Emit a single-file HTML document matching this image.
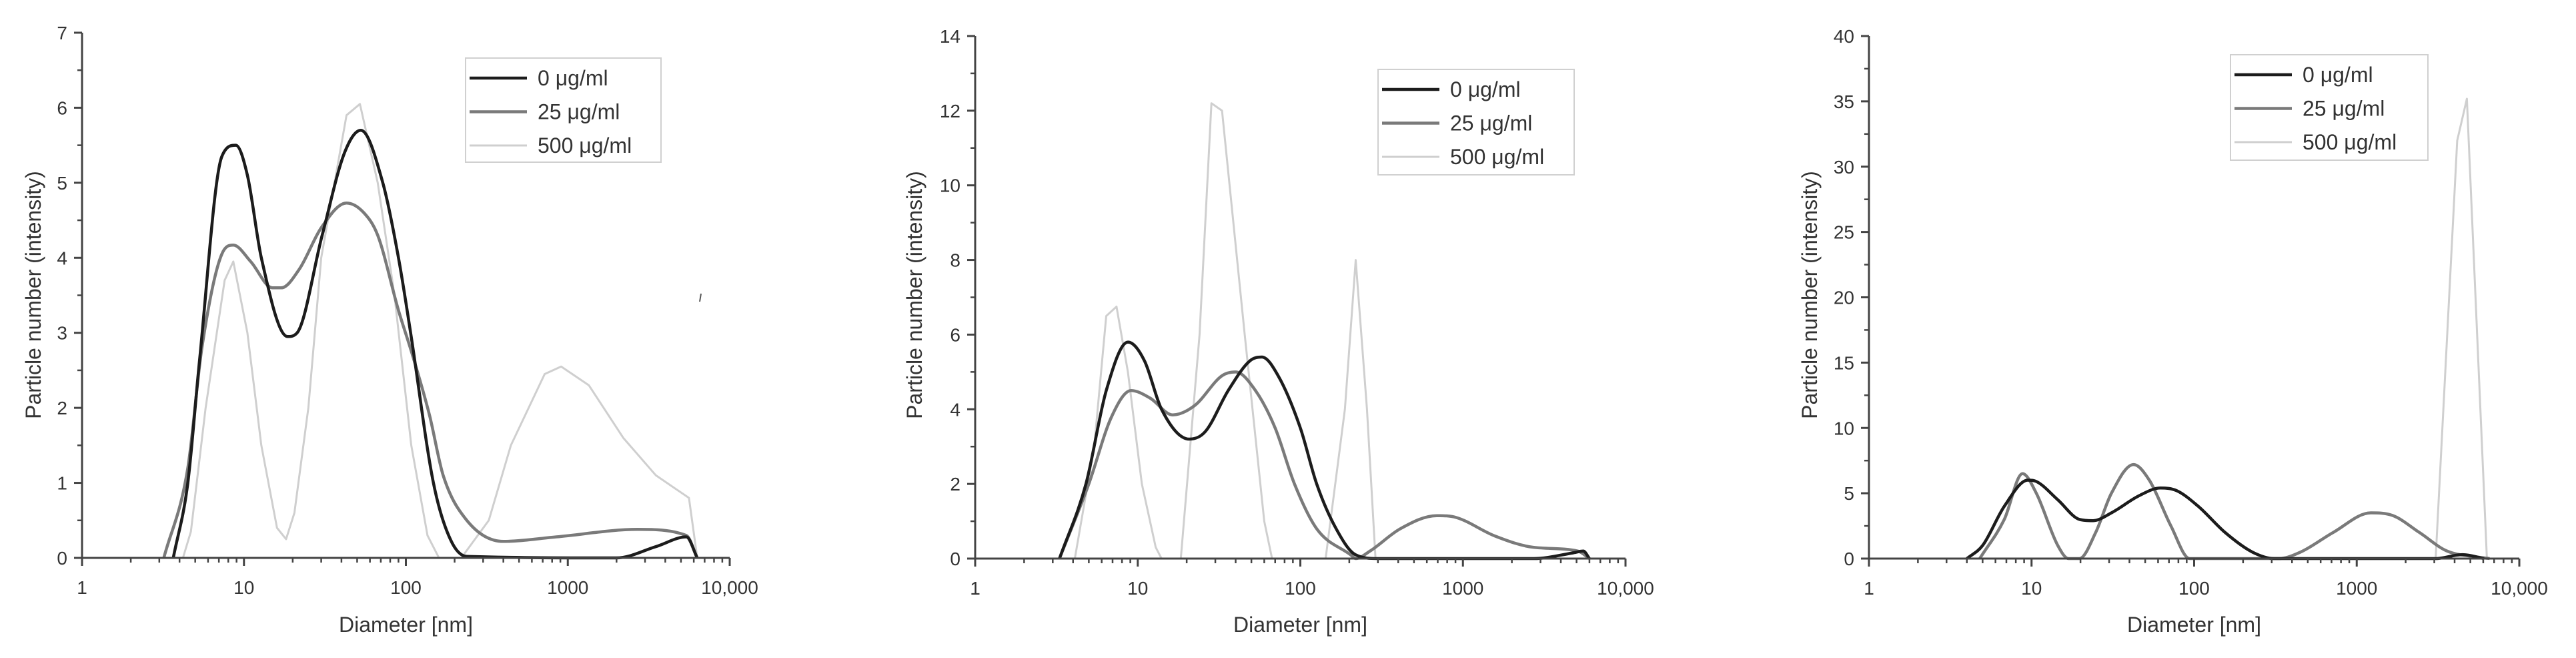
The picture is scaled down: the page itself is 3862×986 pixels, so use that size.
<!DOCTYPE html>
<html><head><meta charset="utf-8"><style>
html,body{margin:0;padding:0;background:#fff;}
svg{display:block;font-family:"Liberation Sans",Arial,sans-serif;}
</style></head><body>
<svg id="fig" width="3862" height="986" viewBox="0 0 3862 986" xmlns="http://www.w3.org/2000/svg"></svg>
<script>
// ---- Data (diameter in nm, particle number intensity) ----
const p1BlackD = [3.66,4.5,5.3,7.3,8.9,10.5,12.8,18.6,21.3,30.4,41.8,52.7,72,90,107,148,188,238,2000,3500,5400,6300];
const p1BlackY = [0,1.0,2.6,5.35,5.5,5.1,4.0,2.95,3.0,4.3,5.4,5.7,5.0,4.0,3.0,1.0,0.25,0.02,0,0.15,0.28,0];
const p1GrayD = [3.2,4.5,5.5,7.3,8.6,11,15,17,22,30,43,55,67,90,110,140,170,238,400,850,2700,5400,6300];
const p1GrayY = [0,1.2,2.8,4.05,4.17,3.95,3.6,3.6,3.85,4.4,4.73,4.6,4.3,3.3,2.7,1.9,1.1,0.5,0.22,0.28,0.38,0.3,0];
const p1LightD = [4.2,4.7,5.8,7.6,8.6,10.5,12.8,16,18.2,20.5,25,30,43,52,67,85,108,136,160,220,325,445,720,910,1350,2200,3500,5600,6300];
const p1LightY = [0,0.35,2.0,3.7,3.95,3.0,1.5,0.4,0.25,0.6,2.0,4.0,5.9,6.05,5.0,3.5,1.5,0.3,0,0,0.5,1.5,2.45,2.55,2.3,1.6,1.1,0.8,0];

const p2BlackD = [3.3,4.8,6.4,8.7,11,14,20.7,26,36,49,58,73,100,126,166,219,300,2730,4730,5500,6000];
const p2BlackY = [0,2.0,4.5,5.8,5.3,4.0,3.2,3.4,4.5,5.3,5.4,4.9,3.5,2.0,0.8,0.1,0,0,0.15,0.2,0];
const p2GrayD = [3.3,5.0,6.9,9.1,11.9,16.4,22.4,33,40,53,70,92,126,204,219,268,412,690,910,1580,2730,5100,6000];
const p2GrayY = [0,2.0,3.8,4.5,4.3,3.85,4.1,4.9,5.0,4.5,3.5,2.0,0.8,0.1,0,0.2,0.8,1.15,1.1,0.6,0.3,0.2,0];
const p2LightD = [4.1,5.4,6.4,7.4,8.7,10.6,12.9,14,18.4,24,28.4,33,45.5,60,67,143,188,219,257,290];
const p2LightY = [0,3.0,6.5,6.75,5.0,2.0,0.3,0,0,6.0,12.2,12.0,6.0,1.0,0,0,4.0,8.0,4.0,0];

const p3BlackD = [4.0,5.0,6.8,9.5,10.7,14.5,19.7,23.9,31,45.7,62,78,106,155,228,310,3060,4470,6080];
const p3BlackY = [0,1.0,4.0,6.0,5.9,4.5,3.0,2.9,3.5,4.8,5.4,5.2,4.0,2.0,0.5,0,0,0.3,0];
const p3GrayD = [4.8,6.8,8.8,10.7,14.5,16.9,19.7,24.8,31,42.4,53,72,94,333,452,716,1220,1660,2430,3560,5630,6560];
const p3GrayY = [0,3.0,6.5,5.0,1.0,0,0,2.0,5.0,7.2,6.0,2.5,0,0,0.5,2.0,3.5,3.3,2.0,0.6,0.1,0];
const p3LightD = [3060,4150,4760,6320];
const p3LightY = [0,32,35.2,0];

const xTickLabels = ["1","10","100","1000","10,000"];
const p1YTicks = ["0","1","2","3","4","5","6","7"];
const p2YTicks = ["0","2","4","6","8","10","12","14"];
const p3YTicks = ["0","5","10","15","20","25","30","35","40"];
const legendLabels = ["0 μg/ml","25 μg/ml","500 μg/ml"];

const NS = "http://www.w3.org/2000/svg";
const svg = document.getElementById("fig");
function mk(tag, attrs, parent){ const e=document.createElementNS(NS,tag); for(const k in attrs) e.setAttribute(k,attrs[k]); (parent||svg).appendChild(e); return e; }

function smoothPath(px, py){
  const n = px.length;
  if (n < 3) return px.map((x,i)=>(i?"L":"M")+x.toFixed(1)+","+py[i].toFixed(1)).join(" ");
  const dx=[], s=[];
  for(let i=0;i<n-1;i++){ dx[i]=px[i+1]-px[i]; s[i]=(py[i+1]-py[i])/dx[i]; }
  const m=[s[0]];
  for(let i=1;i<n-1;i++){ m[i] = (s[i-1]*s[i] <= 0) ? 0 : (s[i-1]+s[i])/2; }
  m[n-1]=s[n-2];
  for(let i=0;i<n-1;i++){
    if (s[i]===0){ m[i]=0; m[i+1]=0; continue; }
    const a=m[i]/s[i], b=m[i+1]/s[i], h=a*a+b*b;
    if (h>9){ const t=3/Math.sqrt(h); m[i]=t*a*s[i]; m[i+1]=t*b*s[i]; }
  }
  let d="M"+px[0].toFixed(1)+","+py[0].toFixed(1);
  for(let i=0;i<n-1;i++){
    const h=dx[i]/3;
    d+=" C"+(px[i]+h).toFixed(1)+","+(py[i]+m[i]*h).toFixed(1)+" "+(px[i+1]-h).toFixed(1)+","+(py[i+1]-m[i+1]*h).toFixed(1)+" "+px[i+1].toFixed(1)+","+py[i+1].toFixed(1);
  }
  return d;
}

const styles = [
  {stroke:"#1c1c1c", w:4.5, smooth:true},
  {stroke:"#7a7a7a", w:4.5, smooth:true},
  {stroke:"#cfcfcf", w:3, smooth:false}
];
const panels = [
  {x0:123, x1:1094, y0:836, y1:49, yMax:7, yTicks:p1YTicks, titleOff:73, leg:[698,87,293,156], series:[[p1BlackD,p1BlackY],[p1GrayD,p1GrayY],[p1LightD,p1LightY]]},
  {x0:1462, x1:2437, y0:837, y1:54, yMax:14, yTicks:p2YTicks, titleOff:91, leg:[2066,104,294,158], series:[[p2BlackD,p2BlackY],[p2GrayD,p2GrayY],[p2LightD,p2LightY]]},
  {x0:2802, x1:3777, y0:837, y1:54, yMax:40, yTicks:p3YTicks, titleOff:89, leg:[3344,82,296,158], series:[[p3BlackD,p3BlackY],[p3GrayD,p3GrayY],[p3LightD,p3LightY]]}
];

panels.forEach((p, pi) => {
  const g = mk("g", {});
  
  
  const xs = d => p.x0 + (Math.log10(d)/4)*(p.x1-p.x0);
  const ys = v => p.y0 - (v/p.yMax)*(p.y0-p.y1);
  // series (light drawn first, dark last)
  [2,1,0].forEach(si => {
    const s = p.series[si];
    const px = s[0].map(xs), py = s[1].map(ys);
    const d = styles[si].smooth ? smoothPath(px,py) : px.map((x,i)=>(i?"L":"M")+x.toFixed(1)+","+py[i].toFixed(1)).join(" ");
    const path = mk("path", {d:d, fill:"none", stroke:styles[si].stroke, "stroke-width":styles[si].w, "stroke-linejoin":"round"}, g);
    
    
  });
  // axes
  const ax = mk("path", {d:`M${p.x0},${p.y1} V${p.y0} H${p.x1}`, fill:"none", stroke:"#444", "stroke-width":3}, g);
  
  
  // y ticks
  const n = p.yTicks.length-1;
  for (let i=0;i<=n;i++){
    const v = p.yMax*i/n, y = ys(v);
    mk("line",{x1:p.x0-12,x2:p.x0,y1:y,y2:y,stroke:"#444","stroke-width":3},g);
    if(i<n){ const ym = ys(v+p.yMax/n/2); mk("line",{x1:p.x0-7,x2:p.x0,y1:ym,y2:ym,stroke:"#444","stroke-width":2.5},g); }
    const t = mk("text",{x:p.x0-22,y:y+10,"text-anchor":"end","font-size":28,fill:"#333"},g);
    t.textContent = p.yTicks[i];
    
    
  }
  // x ticks
  for (let dec=0; dec<=4; dec++){
    const x = xs(Math.pow(10,dec));
    mk("line",{x1:x,x2:x,y1:p.y0,y2:p.y0+12,stroke:"#444","stroke-width":3},g);
    if(dec<4) for(let m=2;m<=9;m++){ const xm=xs(m*Math.pow(10,dec)); mk("line",{x1:xm,x2:xm,y1:p.y0,y2:p.y0+7,stroke:"#444","stroke-width":2.5},g); }
    const t = mk("text",{x:x,y:p.y0+54,"text-anchor":"middle","font-size":28,fill:"#333"},g);
    t.textContent = xTickLabels[dec];
    
    
  }
  const xt = mk("text",{x:(p.x0+p.x1)/2,y:947,"text-anchor":"middle","font-size":32,fill:"#333"},g);
  xt.textContent = "Diameter [nm]";
  
  
  const tx = p.x0-p.titleOff, ty = 442;
  const yt = mk("text",{x:tx,y:ty,"text-anchor":"middle","font-size":32,fill:"#333",transform:`rotate(-90 ${tx} ${ty}) translate(0 11)`},g);
  yt.textContent = "Particle number (intensity)";
  
  
  // legend
  const [lx,ly,lw,lh] = p.leg;
  const lg = mk("g",{},g);
  
  
  mk("rect",{x:lx,y:ly,width:lw,height:lh,fill:"#fff",stroke:"#d0d0d0","stroke-width":2},lg);
  legendLabels.forEach((lab,i)=>{
    const cy = ly + 30 + i*50.5;
    mk("line",{x1:lx+6,x2:lx+92,y1:cy,y2:cy,stroke:styles[i].stroke,"stroke-width":styles[i].w},lg);
    const t = mk("text",{x:lx+108,y:cy+11,"font-size":32,fill:"#333"},lg);
    t.textContent = lab;
    
    
  });
});
// stray mark in first panel
const stray = mk("line",{x1:1051,y1:440,x2:1049,y2:452,stroke:"#555","stroke-width":2});


</script>
</body></html>
